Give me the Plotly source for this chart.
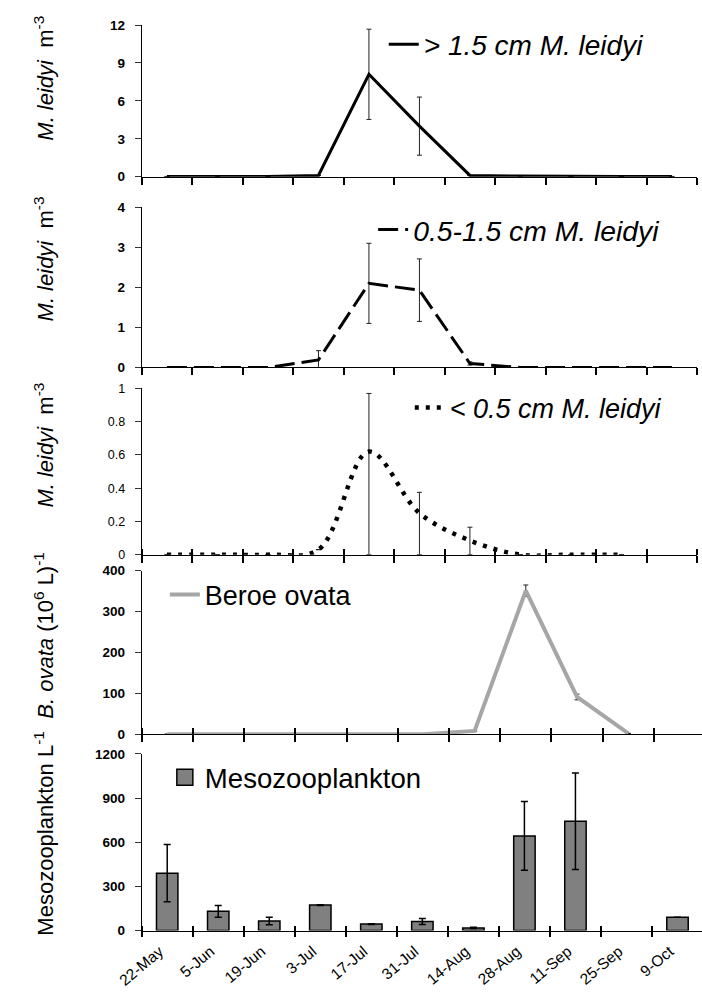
import plotly.graph_objects as go

# ---------------- data ----------------
dates = ["22-May", "5-Jun", "19-Jun", "3-Jul", "17-Jul", "31-Jul",
         "14-Aug", "28-Aug", "11-Sep", "25-Sep", "9-Oct"]

large_vals = [0.02, 0.01, 0.02, 0.1, 8.1, 4.0, 0.1, 0.05, 0.02, 0.02, 0.02]
large_err = [None, None, None, None, 3.57, 2.3, None, None, None, None, None]

medium_vals = [0, 0, 0, 0.19, 2.1, 1.93, 0.1, 0, 0, 0, 0]
medium_err = [None, None, None, 0.23, 1.0, 0.78, 0.04, None, None, None, None]

small_dates = dates[:10]
small_vals = [0, 0, 0, 0.03, 0.62, 0.25, 0.085, 0, 0, 0]
small_err_plus = [None, None, None, None, 0.35, 0.125, 0.08, None, None, None]
small_err_minus = [None, None, None, None, 0.62, 0.25, 0.085, None, None, None]

beroe_dates = dates[:10]
beroe_vals = [0, 0, 0, 0, 0, 0, 8, 351, 91, 2]
beroe_err = [None, None, None, None, None, None, None, 14, 7, None]

meso_vals = [390, 131, 65, 173, 44, 62, 18, 643, 743, None, 91]
meso_err = [195, 40, 26, 3, 2, 20, 4, 234, 328, None, None]


def pos(cats):
    """category -> position on the shared date axis"""
    return [dates.index(c) for c in cats]


# ---------------- layout helpers ----------------
W, H = 702, 996
FONT = "Liberation Sans, Arial, sans-serif"


def px_x(p):
    return p / W


def px_y(p):
    return 1 - p / H


panels = {
    # panel: (top px, bottom px, left px, right px, range_end, tick_in)
    1: (18.3, 172.3, 121, 697, 10.5, 0),
    2: (203.3, 366.0, 121, 697, 10.5, 0),
    3: (387.3, 556.0, 121, 697, 10.5, 6),
    4: (572.3, 738.3, 121, 702, 10.44, 6),
    5: (758.3, 937.7, 121, 702, 10.48, 5),
}

fig = go.Figure()

fig.add_trace(go.Scatter(
    x=pos(dates), y=large_vals, mode="lines", xaxis="x", yaxis="y",
    name="<i>&gt; 1.5 cm M. leidyi</i>", legend="legend",
    line=dict(color="black", width=3),
    error_y=dict(type="data", array=large_err, color="#222", thickness=1, width=2.5),
))

fig.add_trace(go.Scatter(
    x=pos(dates), y=medium_vals, mode="lines", xaxis="x2", yaxis="y2",
    name="<i>0.5-1.5 cm M. leidyi</i>", legend="legend2",
    line=dict(color="black", width=3, dash="20px,7px"),
    error_y=dict(type="data", array=medium_err, color="#222", thickness=1, width=2.5),
))

fig.add_trace(go.Scatter(
    x=pos(small_dates), y=small_vals, mode="lines", xaxis="x3", yaxis="y3",
    name="<i>&lt; 0.5 cm M. leidyi</i>", legend="legend3",
    line=dict(color="black", width=4.5, dash="4px,7px", shape="spline", smoothing=1),
    error_y=dict(type="data", symmetric=False, array=small_err_plus,
                 arrayminus=small_err_minus, color="#222", thickness=1, width=2.5),
))

fig.add_trace(go.Scatter(
    x=pos(beroe_dates), y=beroe_vals, mode="lines", xaxis="x4", yaxis="y4",
    name="Beroe ovata", legend="legend4",
    line=dict(color="#a6a6a6", width=4),
    error_y=dict(type="data", array=beroe_err, color="#222", thickness=1, width=2.5),
))

fig.add_trace(go.Bar(
    x=pos(dates), y=meso_vals, xaxis="x5", yaxis="y5", width=0.42,
    marker=dict(color="#808080", line=dict(color="black", width=1.5)),
    error_y=dict(type="data", array=meso_err, color="black", thickness=1.5, width=3.5),
    showlegend=False,
))
# legend proxy for the bar series (lives on the date-label axis)
fig.add_trace(go.Scatter(
    x=[None], y=[None], mode="markers", xaxis="x6", yaxis="y5",
    name="Mesozooplankton", legend="legend5",
    marker=dict(symbol="square", size=16, color="#808080",
                line=dict(color="black", width=1.5)),
))

y_specs = {
    1: dict(range=[0, 12], tickvals=[0, 3, 6, 9, 12], bold=True),
    2: dict(range=[0, 4], tickvals=[0, 1, 2, 3, 4], bold=True),
    3: dict(range=[0, 1], tickvals=[0, 0.2, 0.4, 0.6, 0.8, 1], bold=False),
    4: dict(range=[0, 400], tickvals=[0, 100, 200, 300, 400], bold=True),
    5: dict(range=[0, 1200], tickvals=[0, 300, 600, 900, 1200], bold=True),
}

layout = dict(
    width=W, height=H, autosize=False,
    margin=dict(l=0, r=0, t=0, b=0),
    paper_bgcolor="white", plot_bgcolor="white",
    font=dict(family=FONT, color="black"),
    showlegend=True,
)

bounds = [k - 0.5 for k in range(len(dates) + 1)]
bounds_minor = [b + 0.001 for b in bounds]

for i, (top, bot, left, right, rend, tin) in panels.items():
    s = "" if i == 1 else str(i)
    ax = dict(
        domain=[px_x(left), px_x(right)],
        anchor="y" + s,
        range=[-0.5, rend], tickmode="array", tickvals=bounds,
        ticks="outside", ticklen=7 if i < 5 else 5, tickwidth=1.5, tickcolor="black",
        showline=True, linecolor="black", linewidth=1,
        showgrid=False, zeroline=False, showticklabels=False,
        fixedrange=True,
    )
    if tin:
        ax["minor"] = dict(tickmode="array", tickvals=bounds_minor, ticks="inside",
                           ticklen=tin, tickwidth=1.5, tickcolor="black", showgrid=False)
    layout["xaxis" + s] = ax
    spec = y_specs[i]
    layout["yaxis" + s] = dict(
        domain=[px_y(bot), px_y(top)],
        anchor="x" + s,
        range=spec["range"], tickmode="array", tickvals=spec["tickvals"],
        ticks="outside", ticklen=6, tickwidth=1, tickcolor="#333",
        showline=True, linecolor="black", linewidth=1,
        showgrid=False, zeroline=False,
        ticklabelstandoff=7,
        tickfont=dict(family=FONT, size=13.5 if spec["bold"] else 12.5,
                      color="black", weight="bold" if spec["bold"] else "normal"),
        fixedrange=True,
    )

# date labels of the bottom panel (rotated, ending near each category centre)
label_shift = 0.15
layout["xaxis6"] = dict(
    overlaying="x5", anchor="y5", side="bottom",
    range=[-0.5 + label_shift, panels[5][4] + label_shift], tickmode="array",
    tickvals=pos(dates), ticktext=dates,
    ticks="", showline=False, showgrid=False, zeroline=False,
    tickangle=-40, ticklabelstandoff=8,
    tickfont=dict(family=FONT, size=15.5, color="black"),
    fixedrange=True,
)

# legends
leg_specs = {
    "legend": (372, 38, 28),
    "legend2": (361, 226, 28.3),
    "legend3": (399, 407, 27),
    "legend4": (145, 597, 27),
    "legend5": (145, 782, 27.6),
}
for key, (lx, ly, fs) in leg_specs.items():
    layout[key] = dict(
        x=px_x(lx), y=px_y(ly), xanchor="left", yanchor="middle",
        xref="paper", yref="paper",
        bgcolor="rgba(0,0,0,0)", borderwidth=0,
        font=dict(family=FONT, size=fs, color="black"),
        itemsizing="trace", itemwidth=30,
    )

fig.update_layout(**layout)

# y-axis titles (placed as in the original figure)
titles = [
    ("<i>M. leidyi</i>&nbsp; m<sup>-3</sup>", 72.5),
    ("<i>M. leidyi</i>&nbsp; m<sup>-3</sup>", 256),
    ("<i>M. leidyi</i>&nbsp; m<sup>-3</sup>", 445),
    ("<i>B. ovata</i> (10<sup>6</sup> L)<sup>-1</sup>", 638),
    ("Mesozooplankton L<sup>-1</sup>", 839),
]
for text, cy in titles:
    fig.add_annotation(
        text=text, x=px_x(20), y=px_y(cy), xref="paper", yref="paper",
        textangle=-90, showarrow=False, xanchor="center", yanchor="middle",
        font=dict(family=FONT, size=22, color="black"),
    )

fig.write_html("out.html")
